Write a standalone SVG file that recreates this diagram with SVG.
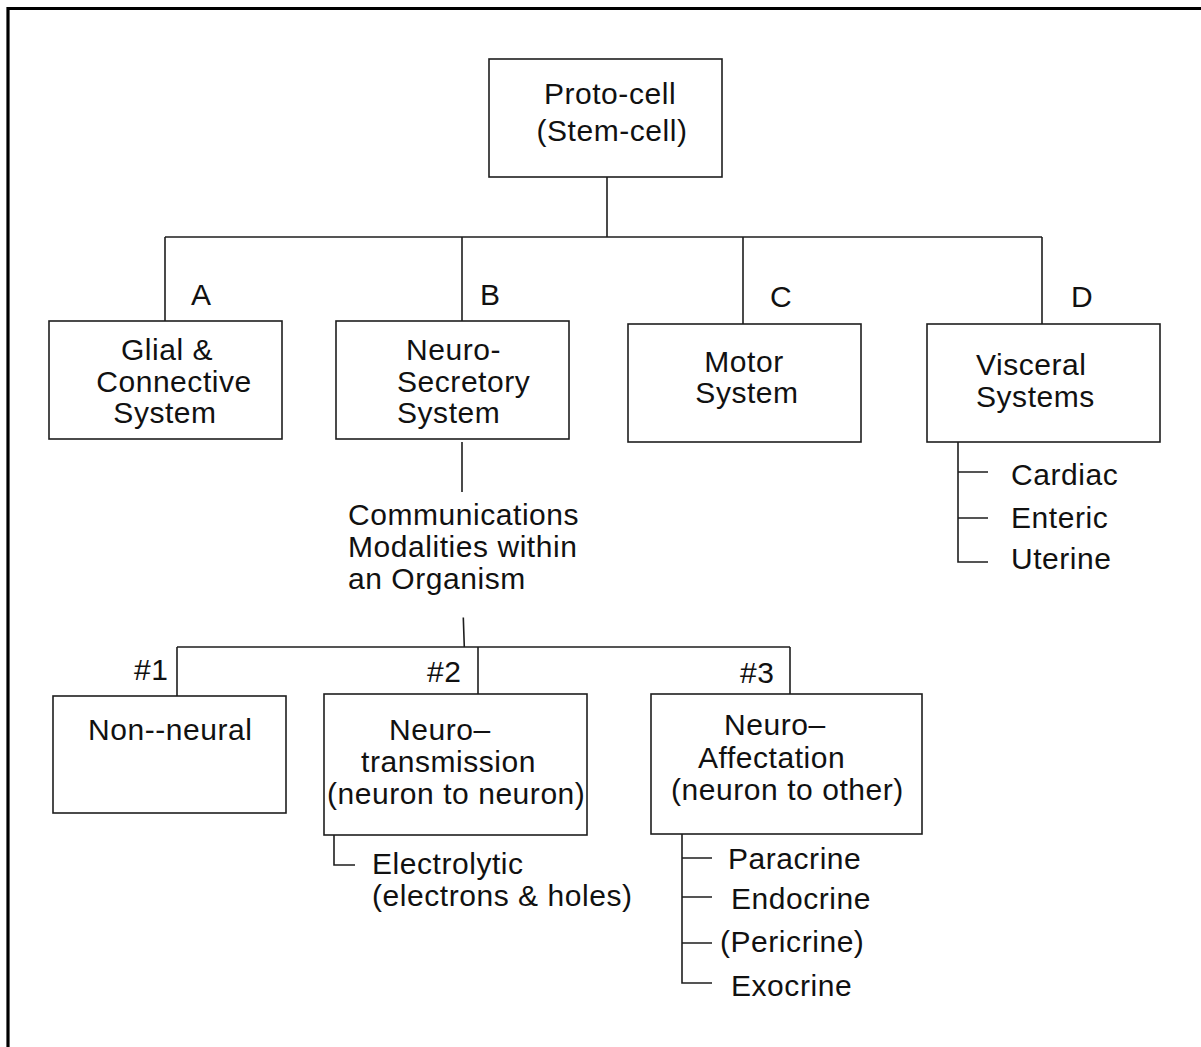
<svg xmlns="http://www.w3.org/2000/svg" width="1201" height="1047" viewBox="0 0 1201 1047">
  <style>
    .box { fill: #fff; stroke: #1e1e1e; stroke-width: 1.6; }
    .ln { fill: none; stroke: #1e1e1e; stroke-width: 1.6; }
    text { font-family: "Liberation Sans", Arial, Helvetica, sans-serif; font-size: 30px; letter-spacing: 0.55px; fill: #111; }
    .c { text-anchor: middle; }
  </style>
  <rect width="1201" height="1047" fill="#fff"/>
  <!-- page frame (top and left edges) -->
  <path d="M8 1047 V8.5 H1201" fill="none" stroke="#000" stroke-width="3.2"/>

  <g id="connectors">
    <path class="ln" d="M607 177 V237 M165 237 H1042 M165 237 V321 M462 237 V321 M743 237 V324 M1042 237 V324"/>
    <path class="ln" d="M462 442 V492 M463.3 617.5 L464.3 647"/>
    <path class="ln" d="M177 647 H790 M177 647 V696 M478 647 V694 M790 647 V694"/>
    <path class="ln" d="M958 442 V562 H988 M958 472 H988 M958 518 H988"/>
    <path class="ln" d="M334 835 V865 H355"/>
    <path class="ln" d="M682 834 V983 H712 M682 858 H712 M682 897 H712 M682 943 H712"/>
  </g>

  <g id="proto-cell">
    <rect class="box" x="489" y="59" width="233" height="118"/>
    <text class="c" x="610" y="104">Proto-cell</text>
    <text class="c" x="612" y="141">(Stem-cell)</text>
  </g>

  <g id="glial">
    <text x="191" y="305">A</text>
    <rect class="box" x="49" y="321" width="233" height="118"/>
    <text class="c" x="167" y="360">Glial &amp;</text>
    <text class="c" x="174" y="392">Connective</text>
    <text class="c" x="165" y="423">System</text>
  </g>

  <g id="neuro-secretory">
    <text x="480" y="305">B</text>
    <rect class="box" x="336" y="321" width="233" height="118"/>
    <text x="406" y="360">Neuro-</text>
    <text x="397" y="392">Secretory</text>
    <text x="397" y="423">System</text>
  </g>

  <g id="motor">
    <text x="770" y="307">C</text>
    <rect class="box" x="628" y="324" width="233" height="118"/>
    <text class="c" x="744" y="372">Motor</text>
    <text class="c" x="747" y="403">System</text>
  </g>

  <g id="visceral">
    <text x="1071" y="307">D</text>
    <rect class="box" x="927" y="324" width="233" height="118"/>
    <text x="976" y="375">Visceral</text>
    <text x="976" y="407">Systems</text>
    <text x="1011" y="485">Cardiac</text>
    <text x="1011" y="528">Enteric</text>
    <text x="1011" y="569">Uterine</text>
  </g>

  <g id="communications">
    <text x="348" y="525">Communications</text>
    <text x="348" y="557">Modalities within</text>
    <text x="348" y="589">an Organism</text>
  </g>

  <g id="non-neural">
    <text x="134" y="680">#1</text>
    <rect class="box" x="53" y="696" width="233" height="117"/>
    <text x="88" y="740">Non--neural</text>
  </g>

  <g id="neurotransmission">
    <text x="427" y="682">#2</text>
    <rect class="box" x="324" y="694" width="263" height="141"/>
    <text x="389" y="740">Neuro–</text>
    <text x="361" y="772">transmission</text>
    <text x="327" y="804">(neuron to neuron)</text>
    <text x="372" y="874">Electrolytic</text>
    <text x="372" y="906">(electrons &amp; holes)</text>
  </g>

  <g id="neuro-affectation">
    <text x="740" y="683">#3</text>
    <rect class="box" x="651" y="694" width="271" height="140"/>
    <text x="724" y="735">Neuro–</text>
    <text x="698" y="768">Affectation</text>
    <text x="671" y="800">(neuron to other)</text>
    <text x="728" y="869">Paracrine</text>
    <text x="731" y="909">Endocrine</text>
    <text x="720" y="952">(Pericrine)</text>
    <text x="731" y="996">Exocrine</text>
  </g>
</svg>
